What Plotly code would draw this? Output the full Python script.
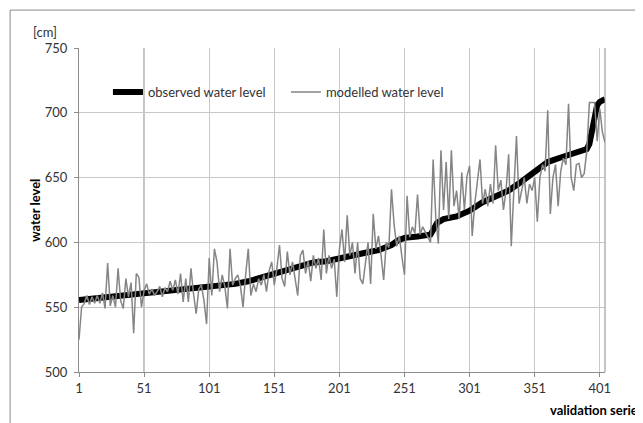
import plotly.graph_objects as go

# Observed water level (sorted validation series)
obs_x = [1, 11, 21, 31, 41, 51, 61, 71, 81, 91, 101, 111, 121, 131, 141, 151, 161, 171, 181, 191,
         201, 211, 221, 231, 241, 246, 251, 261, 271, 276, 281, 291, 301, 311, 321, 331, 341, 351,
         361, 371, 381, 391, 393, 395, 397, 399, 401, 405]
obs_y = [555.5, 556.5, 557.5, 558.5, 559.5, 561, 562, 563, 564.5, 565, 566, 567, 568, 570, 573, 576,
         579.5, 582, 584.5, 585.5, 588, 590, 592, 594, 598, 601.5, 603.5, 604.5, 606, 615, 618, 620,
         624.5, 631, 636, 640, 647, 655, 662, 665.5, 668.5, 672, 676, 688, 700, 706, 708.5, 710.5]

# Modelled water level, every second member of the series
mod_x = list(range(1, 406, 2))
mod_y = [525, 550, 553, 559, 552, 558, 553, 559, 553, 561,
         549, 584, 551, 559, 550, 580, 555, 549, 572, 558,
         569, 530, 576, 573, 550, 563, 568, 560, 564, 559,
         562, 566, 558, 565, 562, 570, 563, 571, 560, 576,
         554, 572, 554, 580, 560, 545, 564, 567, 555, 537,
         588, 559, 595, 585, 562, 575, 566, 549, 595, 567,
         572, 575, 566, 550, 575, 595, 559, 568, 562, 572,
         567, 575, 562, 578, 585, 567, 580, 598, 572, 566,
         593, 575, 585, 570, 559, 590, 594, 576, 586, 570,
         590, 580, 588, 571, 610, 576, 590, 580, 587, 558,
         595, 610, 585, 621, 590, 600, 576, 600, 572, 568,
         585, 600, 568, 622, 595, 605, 590, 571, 600, 596,
         641, 614, 597, 605, 589, 575, 636, 604, 612, 607,
         637, 606, 612, 608, 604, 600, 664, 620, 599, 671,
         625, 662, 618, 671, 628, 640, 618, 654, 625, 651,
         659, 605, 630, 645, 664, 630, 641, 628, 645, 630,
         675, 640, 648, 625, 640, 668, 597, 640, 682, 630,
         640, 650, 630, 645, 640, 650, 616, 650, 660, 655,
         702, 622, 650, 660, 628, 655, 665, 660, 707, 650,
         640, 660, 661, 650, 653, 670, 708, 708, 708, 678,
         703, 685, 677]

x_ticks = [1, 51, 101, 151, 201, 251, 301, 351, 401]
y_ticks = [500, 550, 600, 650, 700, 750]

FONT = "Lato"
FS = 13

fig = go.Figure()
fig.add_trace(go.Scatter(x=obs_x, y=obs_y, mode="lines", name="observed water level",
                         line=dict(color="#000000", width=6)))
fig.add_trace(go.Scatter(x=mod_x, y=mod_y, mode="lines", name="modelled water level",
                         line=dict(color="#858585", width=1.5)))

fig.update_layout(
    width=643, height=423,
    margin=dict(l=71, r=46, t=40, b=59),
    paper_bgcolor="white", plot_bgcolor="white",
    font=dict(family=FONT, size=FS, color="#333333"),
    showlegend=True,
    legend=dict(orientation="h", x=0.055, y=0.864, xanchor="left", yanchor="middle",
                bgcolor="rgba(0,0,0,0)", entrywidth=133, entrywidthmode="pixels",
                font=dict(family=FONT, size=FS, color="#333333")),
    xaxis=dict(range=[1, 405], tickvals=x_ticks, showgrid=True, gridcolor="#c8c8c8", gridwidth=1,
               showline=True, linecolor="#8c8c8c", linewidth=1, mirror=False,
               ticks="outside", ticklen=4, tickcolor="#8c8c8c", zeroline=False,
               tickfont=dict(family=FONT, size=FS, color="#333333")),
    yaxis=dict(range=[500, 750], tickvals=y_ticks, showgrid=True, gridcolor="#c8c8c8", gridwidth=1,
               showline=True, linecolor="#8c8c8c", linewidth=1,
               ticks="outside", ticklen=4, tickcolor="#8c8c8c", zeroline=False,
               ticklabelstandoff=4,
               tickfont=dict(family=FONT, size=FS, color="#333333")),
    shapes=[
        # outer chart border
        dict(type="rect", xref="paper", yref="paper", x0=-0.131, x1=1.3, y0=-0.4, y1=1.117,
             line=dict(color="#8a8a8a", width=1), fillcolor="rgba(0,0,0,0)", layer="below"),
        # right edge of plot area
        dict(type="line", xref="paper", yref="paper", x0=1, x1=1, y0=0, y1=1,
             line=dict(color="#8c8c8c", width=1)),
        # darker vertical line at second tick
        dict(type="line", xref="x", yref="paper", x0=x_ticks[1], x1=x_ticks[1], y0=0, y1=1,
             line=dict(color="#707070", width=1), layer="below"),
    ],
    annotations=[
        dict(text="[cm]", xref="paper", yref="paper", x=-0.065, y=1.05, showarrow=False,
             xanchor="center", yanchor="middle", font=dict(family=FONT, size=FS, color="#333333")),
        dict(text="<b>water level</b>", xref="paper", yref="paper", x=-0.084, y=0.5, showarrow=False,
             textangle=-90, xanchor="center", yanchor="middle",
             font=dict(family=FONT, size=FS, color="#000000")),
        dict(text="<b>validation series</b>", xref="paper", yref="paper", x=0.892, y=-0.117,
             showarrow=False, xanchor="left", yanchor="middle",
             font=dict(family=FONT, size=FS, color="#000000")),
    ],
)

fig.write_html("out.html")
